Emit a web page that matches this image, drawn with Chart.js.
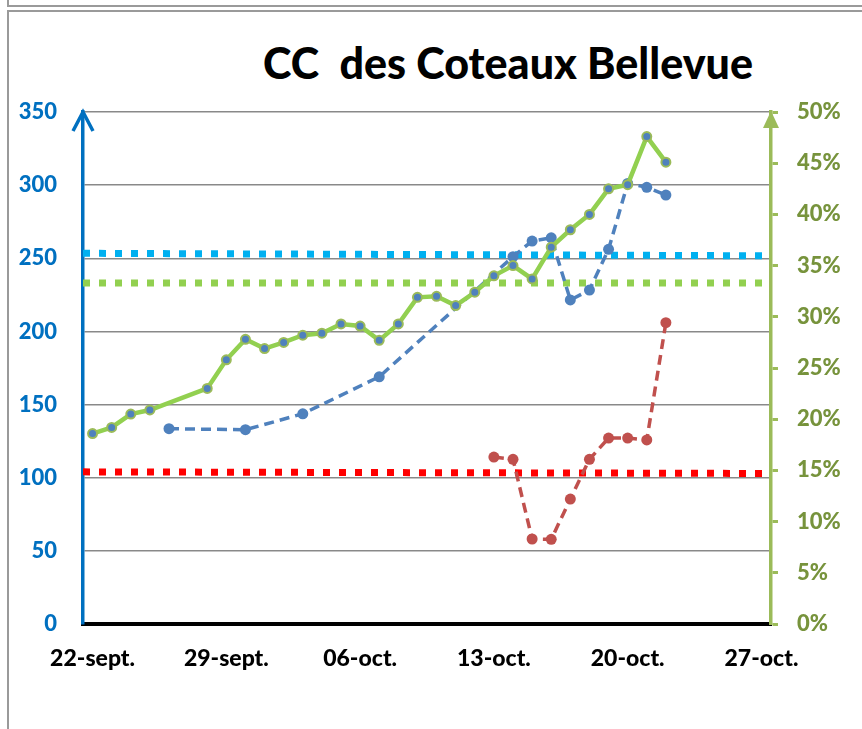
<!DOCTYPE html>
<html>
<head>
<meta charset="utf-8">
<script src="https://cdn.jsdelivr.net/npm/chart.js@4.4.1/dist/chart.umd.min.js"></script>
<style>
  html, body { margin: 0; padding: 0; background: #fff; }
  #wrap { position: relative; width: 862px; height: 729px; overflow: hidden; }
  .frame-prev { position: absolute; left: 7px; top: -4px; width: 870px; height: 9px;
                border-left: 2px solid #9a9a9a; border-bottom: 2px solid #9a9a9a; }
  .frame { position: absolute; left: 7px; top: 10px; width: 870px; height: 740px;
           border-left: 2px solid #9a9a9a; border-top: 2px solid #9a9a9a; }
  #title { position: absolute; left: 508px; top: 37px; transform: translateX(-50%);
           font: 900 43px Lato, 'Open Sans', sans-serif; line-height: 1.2; color: #000;
           white-space: pre; }
  canvas { position: absolute; left: 0; top: 0; }
</style>
</head>
<body>
<div id="wrap">
  <div class="frame-prev"></div>
  <div class="frame"></div>
  <div id="title">CC  des Coteaux Bellevue</div>
  <canvas id="chart" width="862" height="729"></canvas>
</div>
<script>
// ===== Data =====
const TICK_DATES  = ['2020-09-22', '2020-09-29', '2020-10-06', '2020-10-13', '2020-10-20', '2020-10-27'];
const TICK_LABELS = ['22-sept.', '29-sept.', '06-oct.', '13-oct.', '20-oct.', '27-oct.'];

// green: rate in % (right axis)
const GREEN_DATES = [
  '2020-09-22', '2020-09-23', '2020-09-24', '2020-09-25',
  '2020-09-28', '2020-09-29', '2020-09-30',
  '2020-10-01', '2020-10-02', '2020-10-03', '2020-10-04', '2020-10-05', '2020-10-06', '2020-10-07',
  '2020-10-08', '2020-10-09', '2020-10-10', '2020-10-11', '2020-10-12', '2020-10-13', '2020-10-14',
  '2020-10-15', '2020-10-16', '2020-10-17', '2020-10-18', '2020-10-19', '2020-10-20', '2020-10-21',
  '2020-10-22',
];
const GREEN_VALUES = [
  18.6, 19.2, 20.5, 20.9,
  23.0, 25.8, 27.8,
  26.9, 27.5, 28.2, 28.4, 29.3, 29.1, 27.7,
  29.3, 31.9, 32.0, 31.1, 32.4, 34.0, 35.0,
  33.7, 36.8, 38.5, 40.0, 42.5, 42.9, 47.6,
  45.1,
];

// blue dashed (left axis)
const BLUE_DATES = [
  '2020-09-26', '2020-09-30', '2020-10-03', '2020-10-07', '2020-10-14', '2020-10-15', '2020-10-16',
  '2020-10-17', '2020-10-18', '2020-10-19', '2020-10-20', '2020-10-21', '2020-10-22',
];
const BLUE_VALUES = [133.5, 132.8, 143.7, 169.0, 251.1, 261.8, 264.0, 221.5, 228.3, 256.1, 301.2, 298.5, 293.2];

// red dashed (left axis)
const RED_DATES = [
  '2020-10-13', '2020-10-14', '2020-10-15', '2020-10-16', '2020-10-17',
  '2020-10-18', '2020-10-19', '2020-10-20', '2020-10-21', '2020-10-22',
];
const RED_VALUES = [114.1, 112.6, 58.1, 57.9, 85.4, 112.6, 127.1, 127.1, 125.8, 206.0];

// dotted reference lines, from one edge of the axis to the other
const REF_DATES  = ['2020-09-21T12:00', '2020-10-27T12:00'];
const CYAN_REF   = [253.4, 251.7];
const LIME_REF   = [33.3, 33.3];   // right axis, %
const RED_REF    = [104.0, 102.9];

const Y_TICKS  = { min: 0, max: 350, step: 50 };
const Y2_TICKS = { min: 0, max: 50, step: 5 };

// ===== Helpers =====
const FONT = "Lato, 'Open Sans', sans-serif";
const DAY0 = Date.UTC(2020, 8, 0);
const dayNum = s => (Date.parse(s + (s.length === 10 ? 'T00:00:00Z' : ':00Z')) - DAY0) / 864e5;
const pts = (dates, values) => dates.map((d, i) => ({ x: dayNum(d), y: values[i] }));

const refLine = (label, values, color, axis) => ({
  label, data: pts(REF_DATES, values), yAxisID: axis,
  borderColor: color, borderWidth: 7, borderDash: [7, 9], borderCapStyle: 'butt',
  pointRadius: 0, order: 10,
});

const dashed = (label, dates, values, color) => ({
  label, data: pts(dates, values), yAxisID: 'y',
  borderColor: color, borderWidth: 3.5, borderDash: [10, 6],
  pointRadius: 5.5, pointBackgroundColor: color, pointBorderWidth: 0, order: 2,
});

// axis arrows at the top of both vertical axes
const axisArrows = {
  id: 'axisArrows',
  afterDraw(chart) {
    const { ctx, chartArea: a } = chart;
    ctx.save();
    ctx.strokeStyle = '#0070c0';
    ctx.lineWidth = 3.5;
    ctx.lineJoin = 'miter';
    ctx.beginPath();
    ctx.moveTo(a.left - 10, a.top + 19);
    ctx.lineTo(a.left, a.top);
    ctx.lineTo(a.left + 10, a.top + 19);
    ctx.stroke();
    ctx.fillStyle = '#9bbb59';
    ctx.beginPath();
    ctx.moveTo(a.right, a.top - 1);
    ctx.lineTo(a.right + 8, a.top + 16);
    ctx.lineTo(a.right - 8, a.top + 16);
    ctx.closePath();
    ctx.fill();
    ctx.restore();
  },
};

new Chart(document.getElementById('chart'), {
  type: 'line',
  data: {
    datasets: [
      {
        label: 'taux', data: pts(GREEN_DATES, GREEN_VALUES), yAxisID: 'y2',
        borderColor: '#92d050', borderWidth: 4.5,
        pointRadius: 4.5, pointBackgroundColor: '#4f81bd', pointBorderColor: '#9bbb59', pointBorderWidth: 2,
        order: 1,
      },
      dashed('incidence', BLUE_DATES, BLUE_VALUES, '#4f81bd'),
      dashed('incidence 65+', RED_DATES, RED_VALUES, '#c0504d'),
      refLine('seuil 250', CYAN_REF, '#00b0f0', 'y'),
      refLine('seuil taux', LIME_REF, '#92d050', 'y2'),
      refLine('seuil 100', RED_REF, '#ff0000', 'y'),
    ],
  },
  options: {
    responsive: false,
    animation: false,
    layout: { padding: { top: 112, left: 0, right: 0, bottom: 0 } },
    plugins: { legend: { display: false }, tooltip: { enabled: false }, title: { display: false } },
    elements: { line: { tension: 0 } },
    scales: {
      x: {
        type: 'linear',
        min: dayNum(REF_DATES[0]), max: dayNum(REF_DATES[1]),
        afterBuildTicks: s => { s.ticks = TICK_DATES.map(d => ({ value: dayNum(d) })); },
        afterFit: s => { s.height = 105; },
        grid: { display: false, drawTicks: false },
        border: { display: true, color: '#000', width: 4 },
        ticks: {
          padding: 21, color: '#000', maxRotation: 0, autoSkip: false,
          font: { family: FONT, size: 23, weight: '900' },
          callback: (v, i) => TICK_LABELS[i],
        },
      },
      y: {
        position: 'left',
        min: Y_TICKS.min, max: Y_TICKS.max,
        afterFit: s => { s.width = 83; },
        grid: { color: '#898989', lineWidth: 1.5, drawTicks: false },
        border: { color: '#0070c0', width: 3.5 },
        ticks: {
          stepSize: Y_TICKS.step, padding: 26, color: '#0070c0',
          font: { family: FONT, size: 22, weight: '900' },
        },
      },
      y2: {
        position: 'right',
        min: Y2_TICKS.min, max: Y2_TICKS.max,
        afterFit: s => { s.width = 91; },
        grid: { drawOnChartArea: false, drawTicks: true, tickLength: 7, tickWidth: 3, tickColor: '#9bbb59' },
        border: { color: '#9bbb59', width: 3.5 },
        ticks: {
          stepSize: Y2_TICKS.step, padding: 19, color: '#77933c',
          font: { family: FONT, size: 22, weight: '900' },
          callback: v => v + '%',
        },
      },
    },
  },
  plugins: [axisArrows],
});
</script>
</body>
</html>
